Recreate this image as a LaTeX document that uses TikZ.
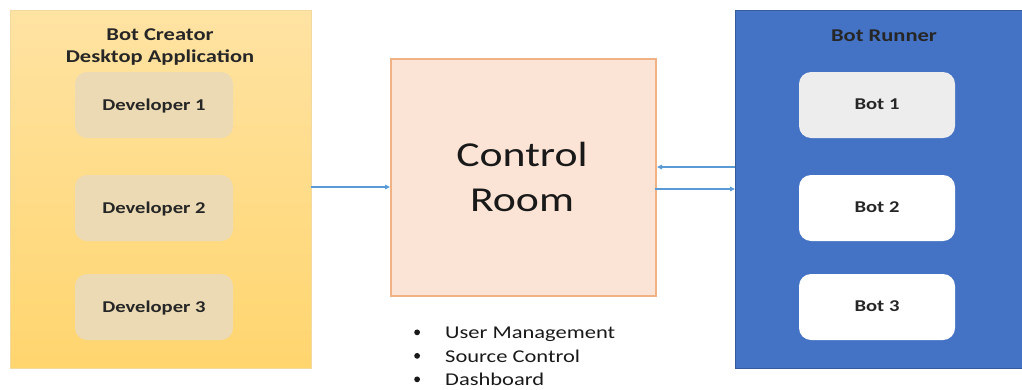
\documentclass[tikz,border=0pt]{standalone}
\usepackage{fontspec}
\setmainfont[FakeStretch=1.25]{Carlito}
\usetikzlibrary{arrows.meta}
\definecolor{ylwtop}{HTML}{FFE3A3}
\definecolor{ylwbot}{HTML}{FFD56E}
\definecolor{ylwedge}{HTML}{F2D9A0}
\definecolor{devfill}{HTML}{EBDAB4}
\definecolor{crfill}{HTML}{FBE4D5}
\definecolor{crdraw}{HTML}{F0B184}
\definecolor{runblue}{HTML}{4472C4}
\definecolor{arrowblue}{HTML}{5B9BD5}
\definecolor{botgray}{HTML}{EDEDED}
\tikzset{
  x=1pt,y=-1pt,
  container/.style={anchor=north west, inner sep=0pt},
  devbox/.style={rounded corners=12pt, fill=devfill, minimum width=158pt, minimum height=66pt, font=\fontsize{16.5}{20}\selectfont\bfseries, text=black!85, text depth=1pt},
  botbox/.style={rounded corners=12pt, fill=white, minimum width=156pt, minimum height=66pt, font=\fontsize{16.5}{20}\selectfont\bfseries, text=black!85, text depth=1pt},
  titletext/.style={font=\fontsize{18}{21.5}\selectfont\bfseries, text=black!85, align=center},
  conn/.style={draw=arrowblue, line width=1.1pt, -{Triangle[length=5pt,width=4.5pt]}},
}
\newcommand{\blt}{\makebox[31pt][l]{\raisebox{3.5pt}{\tikz[x=1pt,y=1pt]\fill (0,0) circle (2.9pt);}}}
\begin{document}
\begin{tikzpicture}
\useasboundingbox (0,0) rectangle (1022,389);
% left container
\node[container, top color=ylwtop, bottom color=ylwbot, draw=ylwedge, minimum width=301pt, minimum height=358pt] (creator) at (10,10) {};
\node[titletext] (ctitle) at (160,47) {Bot Creator\\Desktop Application};
\node[devbox] (dev1) at (154,105) {Developer 1};
\node[devbox] (dev2) at (154,208) {Developer 2};
\node[devbox] (dev3) at (154,307) {Developer 3};
% control room
\node[anchor=north west, fill=crfill, draw=crdraw, line width=2pt, minimum width=265pt, minimum height=237pt, inner sep=0pt] (cr) at (390,58) {};
\node[font=\fontsize{35}{45}\selectfont, align=center, text=black!90] (crtext) at (522,177) {Control\\Room};
% right container
\node[container, fill=runblue, draw=runblue!80!black, line width=0.4pt, minimum width=290pt, minimum height=358pt] (runner) at (735,10) {};
\node[titletext] (rtitle) at (884,36) {Bot Runner};
\node[botbox, fill=botgray] (bot1) at (877,105) {Bot 1};
\node[botbox] (bot2) at (877,208) {Bot 2};
\node[botbox] (bot3) at (877,307) {Bot 3};
% connectors
\coordinate (a1) at (311,187);
\coordinate (a2) at (735,167);
\coordinate (a3) at (655,189);
\draw[conn] (a1) -- (a1 -| cr.west);
\draw[conn] (a2) -- (a2 -| cr.east);
\draw[conn] (a3) -- (a3 -| runner.west);
% bullets
\node[anchor=north west, font=\fontsize{18}{23.5}\selectfont, text=black!90, align=left, inner sep=0pt] (bullets) at (414,327) {%
\blt User Management\\
\blt Source Control\\
\blt Dashboard};
\end{tikzpicture}
\end{document}
